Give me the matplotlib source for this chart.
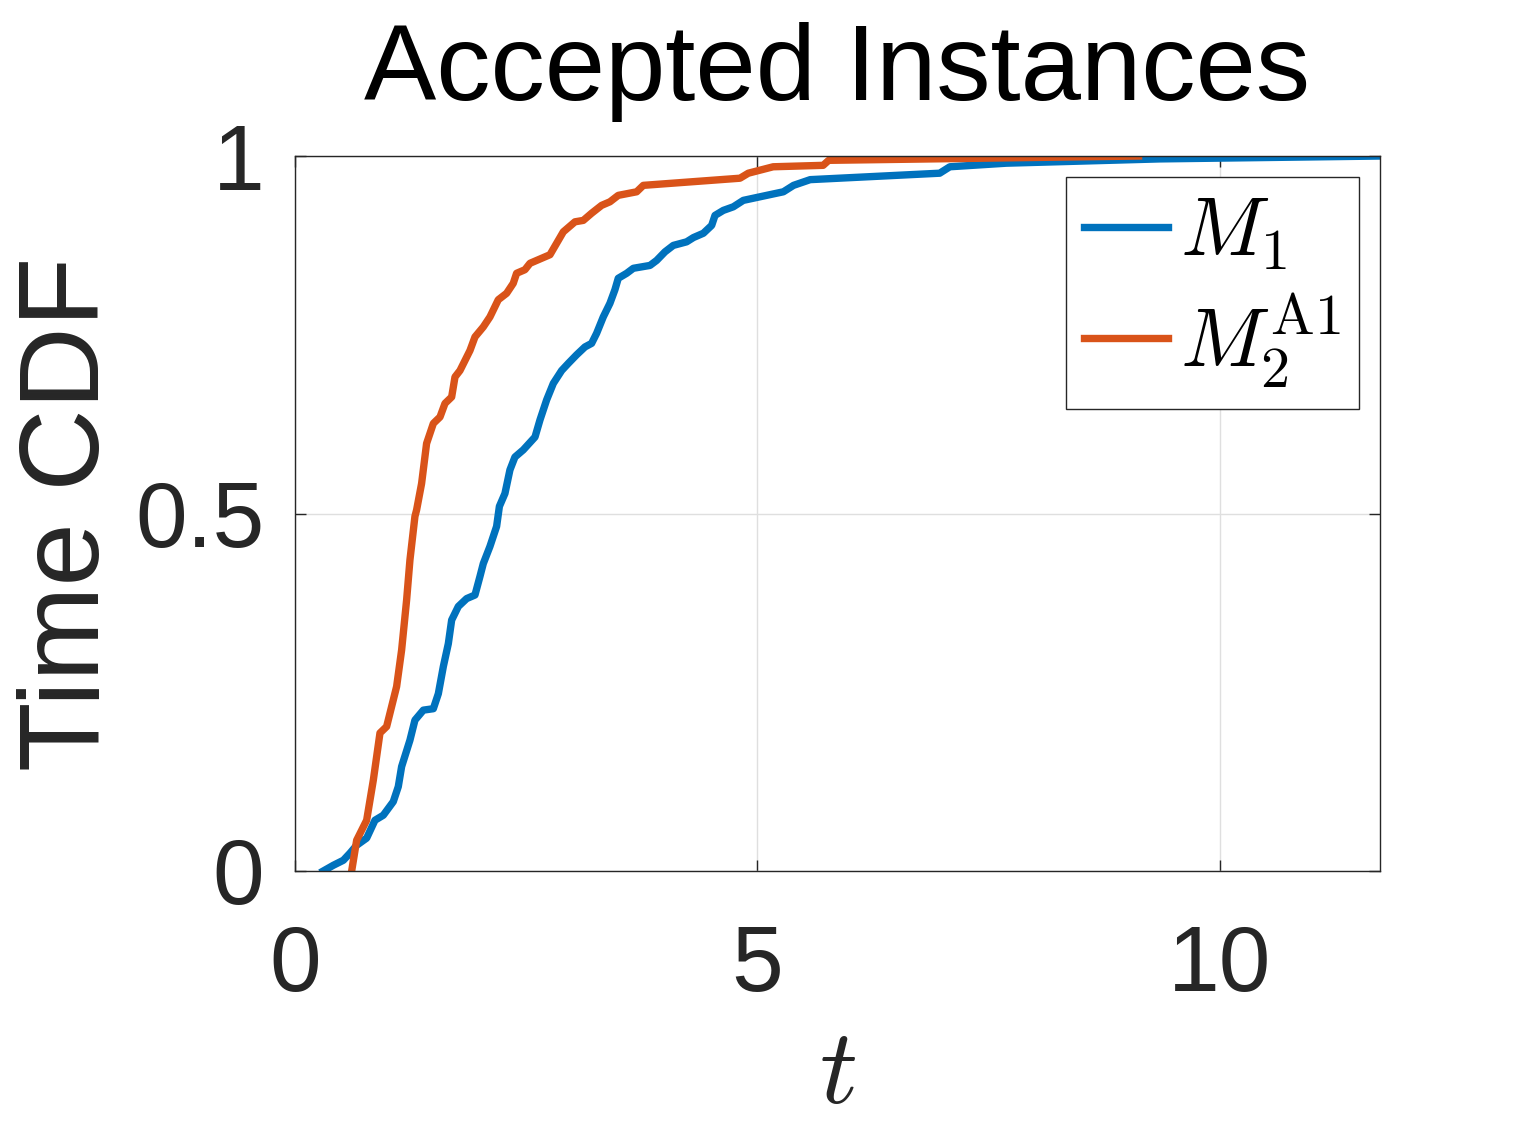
import numpy as np
import matplotlib
matplotlib.use("Agg")
import matplotlib.pyplot as plt

# valores (CDF de tiempos)
t_m1 = [0.306, 0.415, 0.523, 0.595, 0.667, 0.775, 0.865, 0.955, 1.063, 1.117,
        1.153, 1.243, 1.297, 1.388, 1.496, 1.550, 1.604, 1.658, 1.694, 1.766,
        1.856, 1.946, 2.000, 2.036, 2.108, 2.180, 2.210, 2.270, 2.324, 2.378,
        2.468, 2.595, 2.649, 2.721, 2.793, 2.883, 2.955, 3.045, 3.135, 3.207,
        3.261, 3.333, 3.405, 3.459, 3.495, 3.586, 3.658, 3.838, 3.910, 4.000,
        4.090, 4.234, 4.308, 4.415, 4.505, 4.541, 4.631, 4.739, 4.847, 5.135,
        5.28, 5.39, 5.57, 6.97, 7.08, 7.69, 9.35, 11.73]
cdf_m1 = [0.0, 0.008, 0.015, 0.025, 0.036, 0.046, 0.071, 0.078, 0.097, 0.118,
          0.146, 0.183, 0.211, 0.225, 0.227, 0.248, 0.286, 0.318, 0.351, 0.370,
          0.381, 0.386, 0.412, 0.430, 0.454, 0.482, 0.510, 0.528, 0.561, 0.579,
          0.589, 0.607, 0.631, 0.659, 0.682, 0.700, 0.710, 0.722, 0.733, 0.738,
          0.752, 0.775, 0.794, 0.813, 0.829, 0.836, 0.843, 0.847, 0.854, 0.866,
          0.875, 0.880, 0.886, 0.892, 0.903, 0.917, 0.924, 0.929, 0.938, 0.946,
          0.950, 0.959, 0.967, 0.976, 0.985, 0.990, 0.996, 1.0]

t_m2 = [0.613, 0.667, 0.775, 0.847, 0.919, 0.991, 1.099, 1.153, 1.207, 1.243,
        1.297, 1.315, 1.369, 1.423, 1.496, 1.568, 1.622, 1.694, 1.730, 1.784,
        1.892, 1.946, 2.036, 2.108, 2.198, 2.288, 2.360, 2.396, 2.486, 2.541,
        2.757, 2.829, 2.901, 3.027, 3.117, 3.207, 3.315, 3.405, 3.495, 3.694,
        3.766, 4.811, 4.901, 5.17, 5.71, 5.77, 9.12]
cdf_m2 = [0.0, 0.043, 0.071, 0.127, 0.193, 0.202, 0.258, 0.309, 0.379, 0.435,
          0.496, 0.505, 0.542, 0.598, 0.626, 0.635, 0.654, 0.663, 0.691, 0.700,
          0.728, 0.747, 0.761, 0.775, 0.799, 0.808, 0.822, 0.836, 0.841, 0.850,
          0.862, 0.878, 0.894, 0.908, 0.910, 0.920, 0.931, 0.936, 0.945, 0.950,
          0.959, 0.969, 0.976, 0.985, 0.987, 0.994, 1.0]

xticks = [0, 5, 10]
yticks = [0, 0.5, 1]
ytick_labels = ["0", "0.5", "1"]

plt.rcParams['font.family'] = ['Liberation Sans', 'DejaVu Sans']
plt.rcParams['mathtext.fontset'] = 'cm'

fig = plt.figure(figsize=(15.22, 11.39), dpi=100)
ax = fig.add_axes([0.1938, 0.2353, 0.7129, 0.6277])

ax.plot(t_m1, cdf_m1, color='#0072BD', lw=5.3, label=r'$M_1$')
ax.plot(t_m2, cdf_m2, color='#D95319', lw=5.3, label=r'$M_2^{\rm A1}$')

ax.set_xlim(0, 11.73)
ax.set_ylim(0, 1)
ax.set_xticks(xticks)
ax.set_yticks(yticks)
ax.set_yticklabels(ytick_labels)
ax.grid(True, color='#dfdfdf', lw=1)
ax.set_axisbelow(True)
ax.tick_params(direction='in', length=8, width=1, top=True, right=True,
               labelsize=67, colors='#262626')
ax.tick_params(axis='x', pad=38)
ax.tick_params(axis='y', pad=22)
for s in ax.spines.values():
    s.set_color('#262626')
    s.set_linewidth(1)

ax.set_title("Accepted Instances", fontsize=78, color='black', pad=40)
ax.set_ylabel("Time CDF", fontsize=82, color='#262626', labelpad=9)
ax.set_xlabel(r'$t$', fontsize=76, color='#262626', labelpad=12)

leg = ax.legend(loc='upper right', fontsize=60, handlelength=1.0,
                fancybox=False, framealpha=1, edgecolor='#262626',
                borderaxespad=0.25, borderpad=0.22, labelspacing=0.22,
                handletextpad=0.15)
leg.get_frame().set_linewidth(1)

fig.savefig("out.png", dpi=100, facecolor='white')
